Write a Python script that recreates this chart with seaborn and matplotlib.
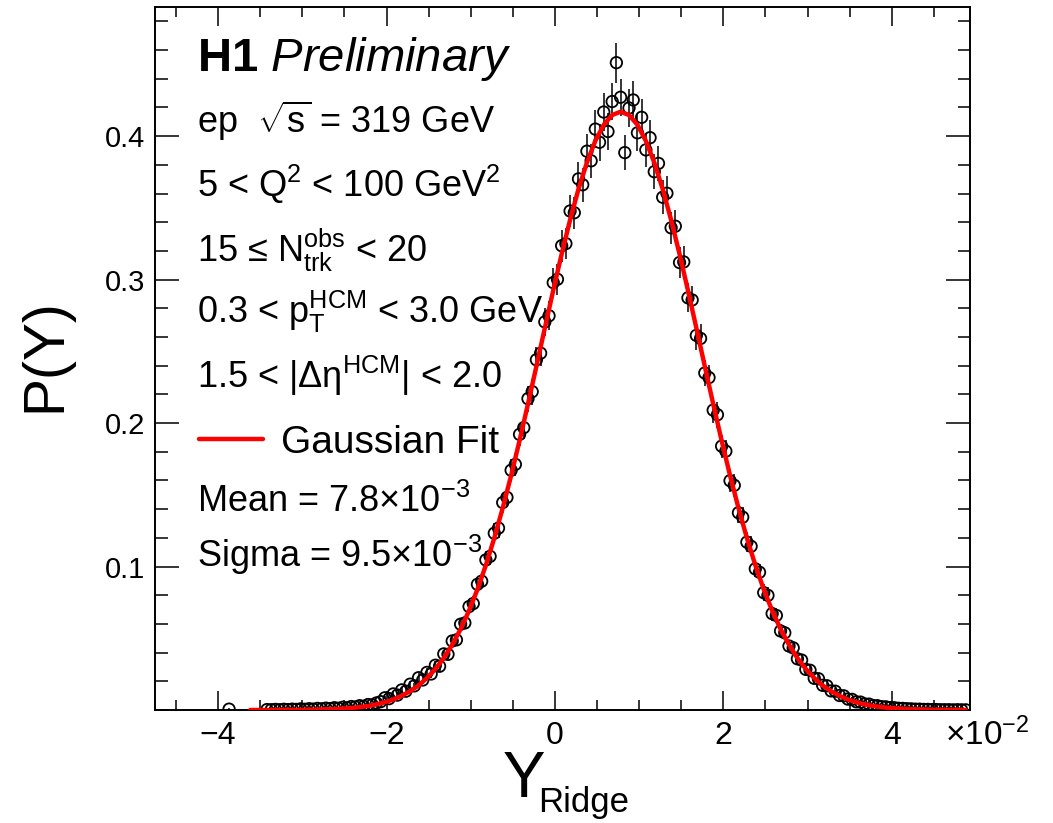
import numpy as np
import matplotlib
matplotlib.use("Agg")
import matplotlib.pyplot as plt
import seaborn as sns
from matplotlib.ticker import MultipleLocator, FixedLocator

# P(Y) histogram, Y_Ridge in units of 1e-2, bins 0.05 wide starting at -3.87
bin_start = -3.87
bin_width = 0.05
nan = np.nan
p_y = [
    0.0006, nan, nan, nan, nan, nan, nan, nan, nan,
    0.0003, 0.0002, 0.0004, 0.0002, 0.0005, 0.0003, 0.0006, 0.0004, 0.0008, 0.0005,
    0.0009, 0.0006, 0.0011, 0.0008, 0.0013, 0.0010, 0.0016, 0.0012, 0.0019, 0.0015,
    0.0024, 0.0021, 0.0030, 0.0026, 0.0038, 0.0036, 0.0049, 0.0058, 0.0085, 0.0079,
    0.0112, 0.0104, 0.0140, 0.0131, 0.0180, 0.0168, 0.0225, 0.0209, 0.0262, 0.0251,
    0.0312, 0.0305, 0.0391, 0.0388, 0.0481, 0.0489, 0.0598, 0.0607, 0.0721, 0.0742,
    0.0876, 0.0898, 0.1046, 0.1071, 0.1232, 0.1268, 0.1446, 0.1482, 0.1671, 0.1712,
    0.1921, 0.1968, 0.2170, 0.2219, 0.2441, 0.2487, 0.2705, 0.2748, 0.2979, 0.3002,
    0.3236, 0.3251, 0.3478, 0.3466, 0.3702, 0.3661, 0.3895, 0.3828, 0.4049, 0.3957,
    0.4168, 0.4032, 0.4241, 0.4512,
    0.4271,
    0.3885, 0.4196, 0.4252, 0.4023, 0.4131, 0.3904, 0.3989, 0.3752, 0.3810, 0.3574,
    0.3602, 0.3361, 0.3372, 0.3119, 0.3123, 0.2873, 0.2858, 0.2611, 0.2590, 0.2349,
    0.2317, 0.2090, 0.2058, 0.1839, 0.1804, 0.1598, 0.1566, 0.1375, 0.1344, 0.1170,
    0.1141, 0.0984, 0.0960, 0.0818, 0.0799, 0.0672, 0.0659, 0.0551, 0.0538, 0.0446,
    0.0433, 0.0357, 0.0348, 0.0283, 0.0277, 0.0221, 0.0218, 0.0172, 0.0169, 0.0133,
    0.0131, 0.0101, 0.0099, 0.0076, 0.0074, 0.0057, 0.0055, 0.0042, 0.0041, 0.0031,
    0.0030, 0.0023, 0.0022, 0.0017, 0.0016, 0.0012, 0.0011, 0.0009, 0.0008, 0.0006,
    0.0006, 0.0004, 0.0004, 0.0003, 0.0003, 0.0002, 0.0002, 0.0002, 0.0001, 0.0002,
    0.0001, 0.0001,
]
p_err = [
    0.0005, nan, nan, nan, nan, nan, nan, nan, nan,
    0.0005, 0.0005, 0.0005, 0.0005, 0.0005, 0.0005, 0.0005, 0.0005, 0.0005, 0.0005,
    0.0005, 0.0005, 0.0005, 0.0005, 0.0005, 0.0005, 0.0005, 0.0005, 0.0005, 0.0005,
    0.001, 0.001, 0.001, 0.001, 0.001, 0.001, 0.001, 0.001, 0.001, 0.001,
    0.002, 0.002, 0.002, 0.002, 0.002, 0.002, 0.003, 0.003, 0.003, 0.003,
    0.003, 0.003, 0.003, 0.003, 0.004, 0.004, 0.004, 0.004, 0.005, 0.005,
    0.005, 0.005, 0.006, 0.006, 0.007, 0.007, 0.007, 0.007, 0.008, 0.008,
    0.008, 0.008, 0.009, 0.009, 0.009, 0.009, 0.010, 0.010, 0.010, 0.011,
    0.011, 0.011, 0.011, 0.011, 0.012, 0.012, 0.012, 0.012, 0.013, 0.013,
    0.013, 0.013, 0.013, 0.014,
    0.013,
    0.012, 0.013, 0.013, 0.013, 0.013, 0.012, 0.012, 0.012, 0.012, 0.012,
    0.012, 0.011, 0.011, 0.011, 0.011, 0.010, 0.010, 0.010, 0.010, 0.009,
    0.009, 0.009, 0.009, 0.008, 0.008, 0.008, 0.008, 0.007, 0.007, 0.007,
    0.007, 0.006, 0.006, 0.006, 0.006, 0.005, 0.005, 0.005, 0.005, 0.004,
    0.004, 0.004, 0.004, 0.003, 0.003, 0.003, 0.003, 0.003, 0.003, 0.002,
    0.002, 0.002, 0.002, 0.002, 0.002, 0.001, 0.001, 0.001, 0.001, 0.001,
    0.001, 0.001, 0.001, 0.0005, 0.0005, 0.0005, 0.0005, 0.0005, 0.0005, 0.0005,
    0.0005, 0.0005, 0.0005, 0.0005, 0.0005, 0.0005, 0.0005, 0.0005, 0.0005, 0.0005,
    0.0005, 0.0005,
]

# Gaussian fit curve, step 0.1 starting at -3.62
fit_start = -3.62
fit_step = 0.1
fit_y = [
    0.0000, 0.0000, 0.0000, 0.0000, 0.0001, 0.0001, 0.0001, 0.0002, 0.0003, 0.0005,
    0.0007, 0.0010, 0.0014, 0.0020, 0.0028, 0.0039, 0.0054, 0.0073, 0.0099, 0.0131,
    0.0171, 0.0223, 0.0286, 0.0362, 0.0455, 0.0564, 0.0693, 0.0841, 0.1010, 0.1199,
    0.1408, 0.1635, 0.1878, 0.2133, 0.2396, 0.2662, 0.2925, 0.3178, 0.3416, 0.3631,
    0.3816, 0.3967, 0.4079, 0.4147, 0.4170,
    0.4147, 0.4079, 0.3967, 0.3816, 0.3631, 0.3416, 0.3178, 0.2925, 0.2662, 0.2396,
    0.2133, 0.1878, 0.1635, 0.1408, 0.1199, 0.1010, 0.0841, 0.0693, 0.0564, 0.0455,
    0.0362, 0.0286, 0.0223, 0.0171, 0.0131, 0.0099, 0.0073, 0.0054, 0.0039, 0.0028,
    0.0020, 0.0014, 0.0010, 0.0007, 0.0005, 0.0003, 0.0002, 0.0001, 0.0001, 0.0001,
    0.0000,
]

info_lines = [
    r'ep  $\sqrt{\mathrm{s}}$ = 319 GeV',
    r'5 < Q$^{2}$ < 100 GeV$^{2}$',
    r'15 ≤ $\mathrm{N}_{\mathrm{trk}}^{\mathrm{obs}}$ < 20',
    r'0.3 < $\mathrm{p}_{\mathrm{T}}^{\mathrm{HCM}}$ < 3.0 GeV',
    r'1.5 < |$\mathrm{\Delta\eta}^{\mathrm{HCM}}$| < 2.0',
]
info_baselines = [133, 197, 262, 323, 388]
fit_lines = [r'Mean = 7.8$\times$10$^{-3}$', r'Sigma = 9.5$\times$10$^{-3}$']
fit_baselines = [512, 567]

sns.set_style("ticks")
plt.rcParams['font.family'] = ['Liberation Sans', 'DejaVu Sans']
plt.rcParams['mathtext.fontset'] = 'custom'
plt.rcParams['mathtext.rm'] = 'Liberation Sans'
plt.rcParams['mathtext.it'] = 'Liberation Sans:italic'
plt.rcParams['mathtext.bf'] = 'Liberation Sans:bold'
for key in ['text.color', 'axes.labelcolor', 'xtick.color', 'ytick.color', 'axes.edgecolor']:
    plt.rcParams[key] = 'black'

W, H = 1053, 823
fig = plt.figure(figsize=(W / 100, H / 100), dpi=100)
ax = fig.add_axes([155 / W, 1 - 710 / H, (970 - 155) / W, (710 - 7) / H])

x = bin_start + bin_width * np.arange(len(p_y))
y = np.array(p_y)
fx = fit_start + fit_step * np.arange(len(fit_y))

ax.errorbar(x, y, yerr=np.array(p_err), fmt='none', ecolor='black', elinewidth=1.1, zorder=2)
sns.scatterplot(x=x, y=y, ax=ax, marker='o', s=68, facecolor='none', edgecolor='black',
                linewidth=1.3, zorder=3, legend=False)
sns.lineplot(x=fx, y=fit_y, ax=ax, color='#ff0000', linewidth=3.2, estimator=None,
             label='Gaussian Fit', zorder=4)

ax.set_xlim(-4.75, 4.93)
ax.set_ylim(0, 0.49)
ax.xaxis.set_major_locator(FixedLocator([-4, -2, 0, 2, 4]))
ax.xaxis.set_minor_locator(MultipleLocator(0.5))
ax.yaxis.set_major_locator(FixedLocator([0.1, 0.2, 0.3, 0.4]))
ax.yaxis.set_minor_locator(MultipleLocator(0.02))
ax.set_xticklabels(['\u22124', '\u22122', '0', '2', '4'])
ax.set_yticklabels(['0.1', '0.2', '0.3', '0.4'])
ax.set_xlabel('')
ax.set_ylabel('')

ax.tick_params(which='both', direction='in', top=True, right=True, color='black', width=1.1)
ax.tick_params(axis='x', which='major', length=14, labelsize=23, pad=8)
ax.tick_params(axis='x', which='minor', length=7)
ax.tick_params(axis='y', which='major', length=17, labelsize=21, pad=7)
ax.tick_params(axis='y', which='minor', length=9)
for sp in ax.spines.values():
    sp.set_linewidth(1.4)

# axis titles and exponent
fig.text(45 / W, 1 - 355 / H, 'P(Y)', rotation=90, ha='center', va='center', fontsize=41)
fig.text(503 / W, 1 - 797 / H, 'Y', ha='left', va='baseline', fontsize=46)
fig.text(538 / W, 1 - 812 / H, 'Ridge', ha='left', va='baseline', fontsize=25)
fig.text(945 / W, 1 - 745 / H, r'$\times$10$^{-2}$', ha='left', va='baseline', fontsize=24)

# labels block
fig.text(197 / W, 1 - 71 / H, r'$\mathbf{H1}$ $\mathit{Preliminary}$', ha='left',
         va='baseline', fontsize=34)
for txt, yb in zip(info_lines + fit_lines, info_baselines + fit_baselines):
    fig.text(197 / W, 1 - yb / H, txt, ha='left', va='baseline', fontsize=26)

ax.legend(loc='center left', bbox_to_anchor=(199 / W, 1 - 443 / H), bbox_transform=fig.transFigure,
          frameon=False, fontsize=28, handlelength=1.65, handletextpad=0.45,
          borderpad=0, borderaxespad=0)

fig.savefig('out.png', dpi=100)
